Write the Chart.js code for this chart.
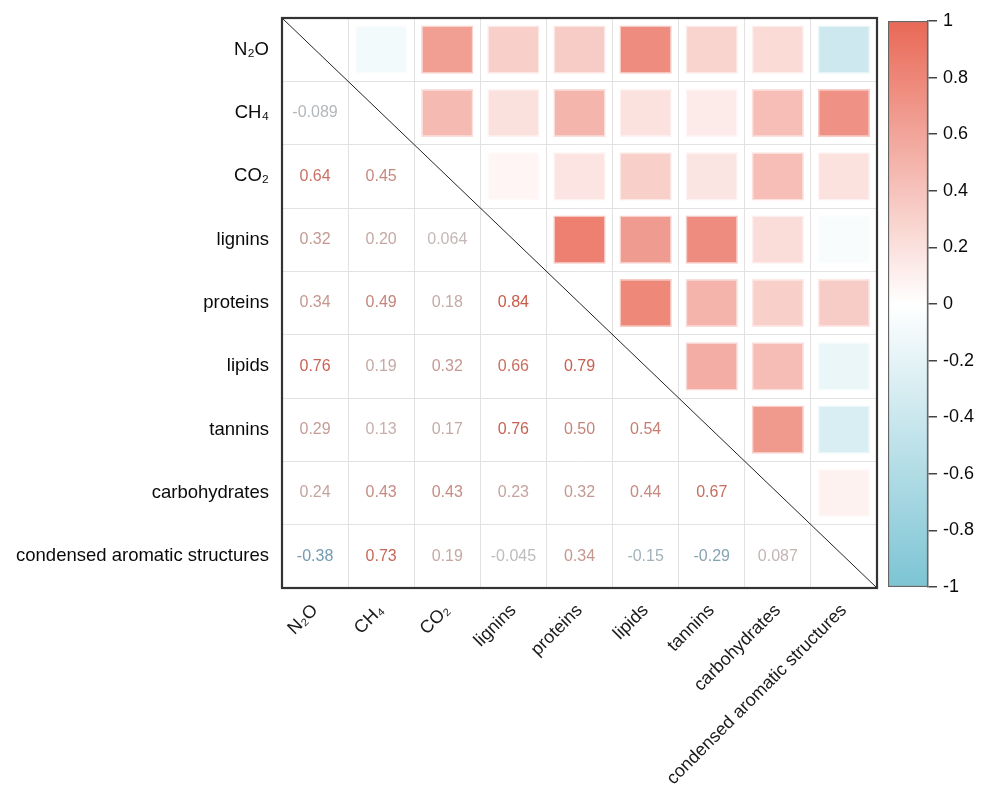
<!DOCTYPE html>
<html>
<head>
<meta charset="utf-8">
<script src="https://cdn.jsdelivr.net/npm/chart.js@4/dist/chart.umd.min.js"></script>
<style>
  html, body { margin: 0; padding: 0; background: #fff; }
  #main { position: absolute; left: 0; top: 0; width: 880px; height: 791px; }
  #bar { position: absolute; left: 880px; top: 0; width: 102px; height: 791px; }
</style>
</head>
<body>
<div id="main"><canvas id="corr"></canvas></div>
<div id="bar"><canvas id="scale"></canvas></div>
<script>
// Variables of the correlation matrix (row/column order)
const variables = ['N\u2082O', 'CH\u2084', 'CO\u2082', 'lignins', 'proteins', 'lipids', 'tannins', 'carbohydrates', 'condensed aromatic structures'];

// Lower-triangle Pearson coefficients, row by row (row i holds columns 0..i-1)
const rowCH4 = [-0.089];
const rowCO2 = [0.64, 0.45];
const rowLignins = [0.32, 0.20, 0.064];
const rowProteins = [0.34, 0.49, 0.18, 0.84];
const rowLipids = [0.76, 0.19, 0.32, 0.66, 0.79];
const rowTannins = [0.29, 0.13, 0.17, 0.76, 0.50, 0.54];
const rowCarbohydrates = [0.24, 0.43, 0.43, 0.23, 0.32, 0.44, 0.67];
const rowCondensed = [-0.38, 0.73, 0.19, -0.045, 0.34, -0.15, -0.29, 0.087];
const lowerRows = [[], rowCH4, rowCO2, rowLignins, rowProteins, rowLipids, rowTannins, rowCarbohydrates, rowCondensed];

// Colour bar ticks
const scaleTicks = [1, 0.8, 0.6, 0.4, 0.2, 0, -0.2, -0.4, -0.6, -0.8, -1];

const n = variables.length;
const corr = (i, j) => (i > j ? lowerRows[i][j] : lowerRows[j][i]);

// Diverging palette: blue (-1) -> white (0) -> red (+1)
const RED = [233, 104, 86];
const BLUE = [124, 196, 212];
const WHITE = [255, 255, 255];
function mix(a, b, t) { return a.map((c, k) => Math.round(c + (b[k] - c) * t)); }
function fillColor(v) {
  const c = v >= 0 ? mix(WHITE, RED, v) : mix(WHITE, BLUE, -v);
  return `rgb(${c[0]},${c[1]},${c[2]})`;
}
function edgeColor(v) {
  const c = v >= 0 ? mix(WHITE, RED, v) : mix(WHITE, BLUE, -v);
  return `rgba(${c[0]},${c[1]},${c[2]},0.45)`;
}
const TXT_GREY = [196, 192, 192];
const TXT_RED = [200, 86, 68];
const TXT_BLUE = [80, 140, 170];
function textColor(v) {
  const t = Math.min(1, Math.abs(v) * 1.15);
  const c = v >= 0 ? mix(TXT_GREY, TXT_RED, t) : mix(TXT_GREY, TXT_BLUE, Math.min(1, t * 1.6));
  return `rgb(${c[0]},${c[1]},${c[2]})`;
}

// Upper triangle: one floating bar per cell, centred on its row index
const HALF = 0.38;
const cells = [];
for (let i = 0; i < n; i++) {
  for (let j = i + 1; j < n; j++) {
    cells.push({ x: variables[j], y: [i - HALF, i + HALF], v: corr(i, j) });
  }
}

const FONT = "'Liberation Sans', Arial, Helvetica, sans-serif";

// Numbers in the lower triangle, the diagonal and the frame
const matrixDecor = {
  id: 'matrixDecor',
  afterDatasetsDraw(chart) {
    const { ctx, chartArea: a, scales: { x, y } } = chart;
    ctx.save();
    ctx.font = `16px ${FONT}`;
    ctx.textAlign = 'center';
    ctx.textBaseline = 'middle';
    for (let i = 1; i < n; i++) {
      for (let j = 0; j < i; j++) {
        const v = lowerRows[i][j];
        ctx.fillStyle = textColor(v);
        ctx.fillText(v.toPrecision(2), x.getPixelForValue(j), y.getPixelForValue(i));
      }
    }
    ctx.strokeStyle = '#222';
    ctx.lineWidth = 1;
    ctx.beginPath();
    ctx.moveTo(a.left, a.top);
    ctx.lineTo(a.right, a.bottom);
    ctx.stroke();
    ctx.strokeStyle = '#333';
    ctx.lineWidth = 2.2;
    ctx.strokeRect(a.left, a.top, a.right - a.left, a.bottom - a.top);
    ctx.restore();
  }
};

new Chart(document.getElementById('corr'), {
  type: 'bar',
  data: {
    labels: variables,
    datasets: [{
      data: cells,
      backgroundColor: c => fillColor(c.raw.v),
      borderColor: c => edgeColor(c.raw.v),
      borderWidth: 1.5,
      borderSkipped: false,
      barPercentage: 0.79,
      categoryPercentage: 1
    }]
  },
  options: {
    responsive: true,
    maintainAspectRatio: false,
    devicePixelRatio: 1,
    animation: false,
    layout: { padding: { top: 18, right: 3, left: 0, bottom: 0 } },
    plugins: { legend: { display: false }, tooltip: { enabled: false } },
    scales: {
      x: {
        type: 'category',
        offset: true,
        grid: { offset: true, color: '#e2e2e2', lineWidth: 1, drawTicks: false },
        border: { display: false },
        ticks: {
          autoSkip: false, maxRotation: 45, minRotation: 45, padding: 12,
          color: '#1a1a1a', font: { family: FONT, size: 18 }
        },
        afterFit(scale) { scale.height = 203; }
      },
      y: {
        type: 'linear',
        reverse: true,
        min: -0.5,
        max: n - 0.5,
        afterBuildTicks(scale) { scale.ticks = variables.map((_, i) => ({ value: i })); },
        grid: { offset: true, color: '#e2e2e2', lineWidth: 1, drawTicks: false },
        border: { display: false },
        ticks: {
          padding: 13, color: '#0a0a0a',
          font: { family: FONT, size: 18.5 },
          callback: v => variables[v]
        },
        afterFit(scale) {
          scale.width = 282;
          scale.paddingTop = 0;
          scale.paddingBottom = 0;
        }
      }
    }
  },
  plugins: [matrixDecor]
});

// Colour bar: one floating bar from -1 to 1 filled with the palette
new Chart(document.getElementById('scale'), {
  type: 'bar',
  data: {
    labels: ['r'],
    datasets: [{
      data: [[-1, 1]],
      backgroundColor(c) {
        const { chart } = c;
        const ys = chart.scales.y;
        if (!chart.chartArea || !ys) return '#fff';
        const g = chart.ctx.createLinearGradient(0, ys.getPixelForValue(1), 0, ys.getPixelForValue(-1));
        g.addColorStop(0, fillColor(1));
        g.addColorStop(0.5, fillColor(0));
        g.addColorStop(1, fillColor(-1));
        return g;
      },
      borderColor: '#666',
      borderWidth: 1.5,
      borderSkipped: false,
      barPercentage: 1,
      categoryPercentage: 1
    }]
  },
  options: {
    responsive: true,
    maintainAspectRatio: false,
    devicePixelRatio: 1,
    animation: false,
    layout: { padding: { top: 21, bottom: 204, left: 8, right: 0 } },
    plugins: { legend: { display: false }, tooltip: { enabled: false } },
    scales: {
      x: { display: false },
      y: {
        position: 'right',
        min: -1,
        max: 1,
        afterBuildTicks(scale) { scale.ticks = scaleTicks.map(v => ({ value: v })); },
        grid: { drawOnChartArea: false, drawTicks: true, tickLength: 9, color: '#444', lineWidth: 1.5 },
        border: { display: true, color: '#666', width: 1.5 },
        ticks: {
          padding: 6, color: '#0a0a0a',
          font: { family: FONT, size: 18 },
          callback: v => String(+Number(v).toFixed(1))
        },
        afterFit(scale) {
          scale.width = 54;
          scale.paddingTop = 0;
          scale.paddingBottom = 0;
        }
      }
    }
  }
});
</script>
</body>
</html>
